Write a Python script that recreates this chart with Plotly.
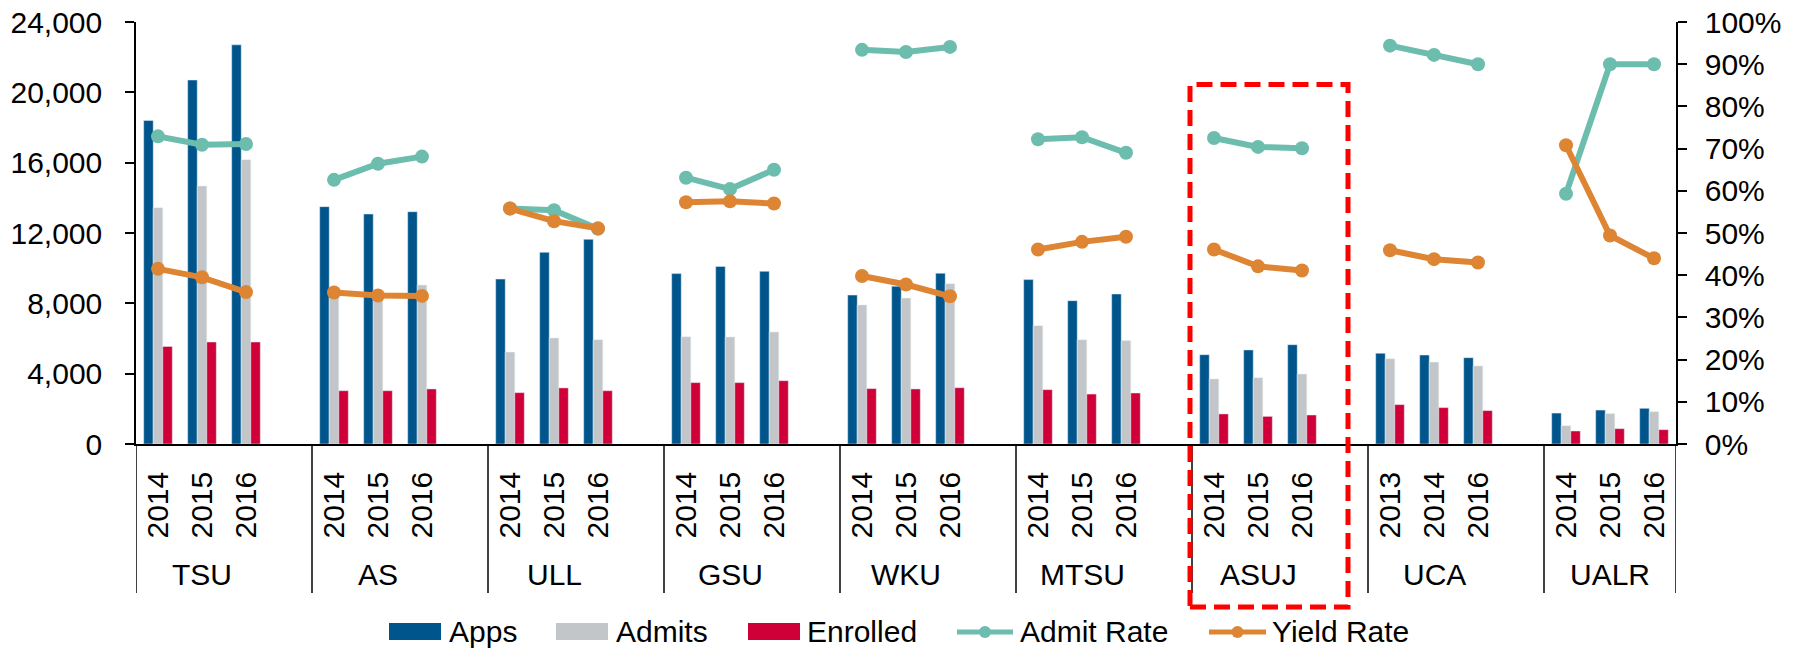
import plotly.graph_objects as go

# ---------------- data ----------------
groups = ["TSU", "AS", "ULL", "GSU", "WKU", "MTSU", "ASUJ", "UCA", "UALR"]
years = [
    ["2014", "2015", "2016"],
    ["2014", "2015", "2016"],
    ["2014", "2015", "2016"],
    ["2014", "2015", "2016"],
    ["2014", "2015", "2016"],
    ["2014", "2015", "2016"],
    ["2014", "2015", "2016"],
    ["2013", "2014", "2016"],
    ["2014", "2015", "2016"],
]
apps = [18400, 20700, 22700, 13500, 13080, 13210, 9380, 10900, 11640,
        9690, 10100, 9820, 8470, 8970, 9710, 9350, 8150, 8530,
        5080, 5350, 5650, 5160, 5060, 4910, 1760, 1930, 2030]
admits = [13440, 14670, 16170, 8450, 8690, 9040, 5230, 6030, 5930,
          6100, 6090, 6370, 7910, 8300, 9120, 6730, 5930, 5880,
          3700, 3770, 3980, 4850, 4660, 4440, 1040, 1730, 1840]
enrolled = [5550, 5800, 5800, 3030, 3030, 3130, 2920, 3190, 3030,
            3490, 3490, 3600, 3150, 3130, 3200, 3090, 2840, 2900,
            1710, 1570, 1650, 2240, 2070, 1900, 740, 870, 815]
admit_rate = [72.9, 70.9, 71.1, 62.6, 66.4, 68.1, 55.8, 55.4, 51.0,
              63.1, 60.4, 65.0, 93.4, 92.9, 94.1, 72.2, 72.7, 69.0,
              72.5, 70.4, 70.1, 94.4, 92.2, 90.0, 59.3, 90.0, 90.0]
yield_rate = [41.5, 39.5, 36.0, 35.9, 35.2, 35.1, 55.8, 52.8, 51.1,
              57.3, 57.5, 57.0, 39.8, 37.8, 35.0, 46.1, 47.9, 49.1,
              46.1, 42.1, 41.1, 45.9, 43.8, 43.0, 70.8, 49.4, 44.0]

# ---------------- style ----------------
C_APPS = "#00558C"
C_ADMITS = "#C2C6C8"
C_ENR = "#CE0037"
C_AR = "#6DBDAE"
C_YR = "#DE8533"
FONT = "Liberation Sans, Arial, sans-serif"
FS = 30

OFF = 8  # default page body margin
W, H = 1802 - OFF, 649 - OFF
ML, MT = 136 - OFF, 22 - OFF
PW, PH = 1540, 422
MR, MB = W - ML - PW, H - MT - PH


def px_x(px):  # page pixel -> paper
    return (px - OFF - ML) / PW


def px_y(py):
    return (MT + PH - (py - OFF)) / PH


# category positions: 3 years per group, one blank slot between groups
xpos, xtext = [], []
for g, ys in enumerate(years):
    for j, yr in enumerate(ys):
        xpos.append(4 * g + j)
        xtext.append(yr)

# line series broken between groups
lx, lar, lyr = [], [], []
k = 0
for g, ys in enumerate(years):
    for j in range(len(ys)):
        lx.append(xpos[k])
        lar.append(admit_rate[k] / 100)
        lyr.append(yield_rate[k] / 100)
        k += 1
    lx.append(None)
    lar.append(None)
    lyr.append(None)

fig = go.Figure()
fig.add_trace(go.Bar(x=xpos, y=apps, name="Apps", marker_color=C_APPS, showlegend=False))
fig.add_trace(go.Bar(x=xpos, y=admits, name="Admits", marker_color=C_ADMITS, showlegend=False))
fig.add_trace(go.Bar(x=xpos, y=enrolled, name="Enrolled", marker_color=C_ENR, showlegend=False))
fig.add_trace(go.Scatter(x=lx, y=lar, name="Admit Rate", yaxis="y2", mode="lines+markers",
                         line=dict(color=C_AR, width=6), marker=dict(size=14, color=C_AR),
                         connectgaps=False, showlegend=False))
fig.add_trace(go.Scatter(x=lx, y=lyr, name="Yield Rate", yaxis="y2", mode="lines+markers",
                         line=dict(color=C_YR, width=6), marker=dict(size=14, color=C_YR),
                         connectgaps=False, showlegend=False))

n_slots = 4 * len(groups) - 1
shapes = []
# group dividers below the axis
for g in range(len(groups) + 1):
    xv = 4 * g - 0.5 if g < len(groups) else n_slots - 0.5
    shapes.append(dict(type="line", xref="x", yref="paper", x0=xv, x1=xv,
                       y0=0, y1=px_y(593), line=dict(color="black", width=1.5), layer="above"))

annotations = []
for g, name in enumerate(groups):
    annotations.append(dict(x=4 * g + 1, xref="x", y=px_y(574), yref="paper", text=name,
                            showarrow=False, font=dict(size=FS, color="black", family=FONT),
                            xanchor="center", yanchor="middle"))

# red dashed highlight box around ASUJ
shapes.append(dict(type="rect", xref="paper", yref="paper",
                   x0=px_x(1190), x1=px_x(1348), y0=px_y(607), y1=px_y(84.5),
                   line=dict(color="#FF0000", width=5, dash="16px,8px"), layer="above"))

# custom legend
LEG_Y = 631
leg_items = [
    ("rect", C_APPS, 389, 441, 447, "Apps"),
    ("rect", C_ADMITS, 556, 608, 614, "Admits"),
    ("rect", C_ENR, 748, 800, 805, "Enrolled"),
    ("line", C_AR, 957, 1013, 1018, "Admit Rate"),
    ("line", C_YR, 1209, 1266, 1270, "Yield Rate"),
]
for kind, col, x0, x1, tx, label in leg_items:
    if kind == "rect":
        shapes.append(dict(type="rect", xref="paper", yref="paper",
                           x0=px_x(x0), x1=px_x(x1), y0=px_y(LEG_Y + 9), y1=px_y(LEG_Y - 8),
                           fillcolor=col, line=dict(width=0)))
    else:
        shapes.append(dict(type="line", xref="paper", yref="paper",
                           x0=px_x(x0), x1=px_x(x1), y0=px_y(LEG_Y + 1), y1=px_y(LEG_Y + 1),
                           line=dict(color=col, width=5)))
        cx = (x0 + x1) / 2
        shapes.append(dict(type="circle", xref="paper", yref="paper",
                           x0=px_x(cx - 6), x1=px_x(cx + 6), y0=px_y(LEG_Y + 7), y1=px_y(LEG_Y - 5),
                           fillcolor=col, line=dict(width=0)))
    annotations.append(dict(x=px_x(tx), xref="paper", y=px_y(LEG_Y), yref="paper", text=label,
                            showarrow=False, xanchor="left", yanchor="middle",
                            font=dict(size=FS, color="black", family=FONT)))

fig.update_layout(
    width=W, height=H,
    margin=dict(l=ML, r=MR, t=MT, b=MB, pad=0, autoexpand=False),
    paper_bgcolor="white", plot_bgcolor="white",
    font=dict(family=FONT, size=FS, color="black"),
    barmode="group", bargap=0.35, bargroupgap=0,
    showlegend=False,
    xaxis=dict(range=[-0.5, n_slots - 0.5], tickmode="array", tickvals=xpos, ticktext=xtext,
               tickangle=-90, ticks="", showline=True, linecolor="black", linewidth=1.5,
               showgrid=False, zeroline=False, ticklabelstandoff=14, automargin=False,
               tickfont=dict(size=FS, family=FONT, color="black")),
    yaxis=dict(range=[0, 24000], dtick=4000, tickformat=",", showline=True, linecolor="black",
               linewidth=1.5, ticks="outside", ticklen=9, tickwidth=1.5, tickcolor="black",
               showgrid=False, zeroline=False, ticklabelstandoff=17, ticklabeloverflow="allow",
               automargin=False, tickfont=dict(size=FS, family=FONT, color="black")),
    yaxis2=dict(range=[0, 1], dtick=0.1, tickformat=".0%", overlaying="y", side="right",
                showline=True, linecolor="black", linewidth=1.5, ticks="outside", ticklen=9,
                tickwidth=1.5, tickcolor="black", showgrid=False, zeroline=False,
                ticklabelstandoff=12, ticklabeloverflow="allow", automargin=False,
                tickfont=dict(size=FS, family=FONT, color="black")),
    shapes=shapes,
    annotations=annotations,
)

fig.write_html("out.html")
